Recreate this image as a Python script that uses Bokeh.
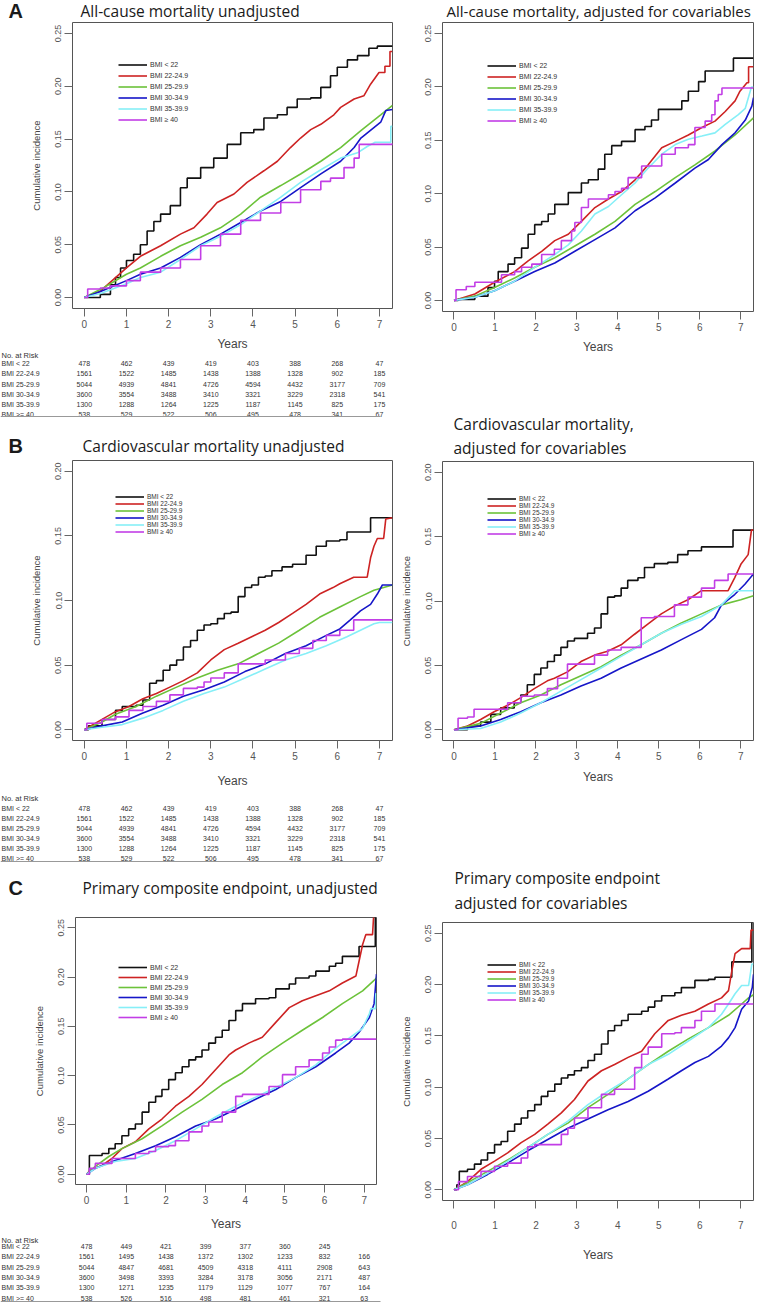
from bokeh.plotting import figure
from bokeh.layouts import column, row
from bokeh.models import (Range1d, Legend, LegendItem, FixedTicker,
                          NumeralTickFormatter)
from bokeh.embed import file_html
from bokeh.resources import INLINE
from bokeh.core.properties import value

# ---------------- data ----------------
GROUPS = ["BMI < 22", "BMI 22-24.9", "BMI 25-29.9", "BMI 30-34.9", "BMI 35-39.9", "BMI \u2265 40"]
RISK_LABELS = ["BMI < 22", "BMI 22-24.9", "BMI 25-29.9", "BMI 30-34.9", "BMI 35-39.9", "BMI >= 40"]
YEARS = [0, 1, 2, 3, 4, 5, 6, 7]
YTICKS_25 = [0.0, 0.05, 0.10, 0.15, 0.20, 0.25]
YTICKS_20 = [0.0, 0.05, 0.10, 0.15, 0.20]

# Numbers at risk (panels A and B)
RISK_AB_LT22 = [478, 462, 439, 419, 403, 388, 268, 47]
RISK_AB_B22 = [1561, 1522, 1485, 1438, 1388, 1328, 902, 185]
RISK_AB_B25 = [5044, 4939, 4841, 4726, 4594, 4432, 3177, 709]
RISK_AB_B30 = [3600, 3554, 3488, 3410, 3321, 3229, 2318, 541]
RISK_AB_B35 = [1300, 1288, 1264, 1225, 1187, 1145, 825, 175]
RISK_AB_GE40 = [538, 529, 522, 506, 495, 478, 341, 67]
# Numbers at risk (panel C)
RISK_C_LT22 = [478, 449, 421, 399, 377, 360, 245, None]
RISK_C_B22 = [1561, 1495, 1438, 1372, 1302, 1233, 832, 166]
RISK_C_B25 = [5044, 4847, 4681, 4509, 4318, 4111, 2908, 643]
RISK_C_B30 = [3600, 3498, 3393, 3284, 3178, 3056, 2171, 487]
RISK_C_B35 = [1300, 1271, 1235, 1179, 1129, 1077, 767, 164]
RISK_C_GE40 = [538, 526, 516, 498, 481, 461, 321, 63]

# All-cause mortality, unadjusted: (years, cumulative incidence)
AU_LT22 = [(0,0),(0.38,0.003),(0.62,0.012),(0.74,0.019),(0.86,0.028),(1.0,0.035),(1.17,0.041),(1.33,0.050),(1.49,0.063),(1.65,0.072),(1.81,0.079),(2.04,0.087),(2.28,0.104),(2.44,0.113),(2.76,0.123),(3.07,0.132),(3.39,0.145),(3.71,0.156),(4.02,0.159),(4.26,0.170),(4.58,0.173),(4.81,0.180),(5.05,0.188),(5.37,0.189),(5.61,0.199),(5.84,0.210),(6.0,0.218),(6.24,0.225),(6.48,0.229),(6.75,0.236),(6.95,0.238),(7.31,0.238)]
AU_B22 = [(0,0),(0.38,0.006),(1.0,0.028),(1.33,0.039),(1.81,0.049),(2.28,0.060),(2.6,0.066),(2.91,0.079),(3.15,0.090),(3.55,0.098),(3.86,0.109),(4.26,0.120),(4.58,0.129),(4.89,0.142),(5.13,0.151),(5.37,0.159),(5.61,0.164),(5.92,0.173),(6.08,0.180),(6.4,0.188),(6.63,0.191),(6.79,0.202),(6.99,0.213),(7.13,0.213),(7.13,0.219),(7.25,0.219),(7.25,0.233),(7.31,0.233)]
AU_B25 = [(0,0),(0.4,0.008),(1.0,0.022),(1.33,0.028),(1.81,0.039),(2.28,0.049),(2.76,0.057),(3.23,0.066),(3.71,0.079),(4.18,0.095),(4.66,0.106),(5.13,0.117),(5.61,0.129),(6.08,0.142),(6.56,0.158),(7.03,0.173),(7.31,0.182)]
AU_B30 = [(0,0),(0.4,0.006),(1.0,0.016),(1.33,0.022),(1.81,0.028),(2.28,0.038),(2.76,0.050),(3.23,0.060),(3.71,0.071),(4.18,0.082),(4.66,0.091),(5.13,0.104),(5.61,0.117),(6.08,0.129),(6.4,0.142),(6.56,0.151),(7.03,0.166),(7.15,0.177),(7.31,0.178)]
AU_B35 = [(0,0),(0.4,0.004),(1.0,0.013),(1.33,0.019),(1.81,0.024),(2.28,0.036),(2.76,0.049),(3.23,0.058),(3.71,0.069),(4.18,0.082),(4.66,0.095),(5.13,0.109),(5.61,0.121),(6.08,0.132),(6.48,0.137),(6.71,0.143),(6.9,0.147),(7.27,0.147),(7.27,0.162),(7.31,0.162)]
AU_GE40 = [(0,0),(0.08,0.008),(0.38,0.009),(0.62,0.011),(1.0,0.016),(1.33,0.024),(1.81,0.028),(2.28,0.036),(2.76,0.049),(3.23,0.060),(3.71,0.073),(4.18,0.080),(4.66,0.090),(5.13,0.102),(5.61,0.110),(5.84,0.113),(6.16,0.123),(6.4,0.132),(6.52,0.145),(7.31,0.146)]

# All-cause mortality, adjusted
AA_LT22 = [(0,0),(0.1,0.001),(0.51,0.004),(0.83,0.012),(0.99,0.018),(1.08,0.027),(1.32,0.034),(1.48,0.040),(1.65,0.049),(1.81,0.062),(1.97,0.071),(2.14,0.074),(2.3,0.081),(2.46,0.090),(2.79,0.101),(3.11,0.110),(3.28,0.113),(3.52,0.123),(3.68,0.137),(3.85,0.145),(4.09,0.149),(4.42,0.160),(4.66,0.163),(4.82,0.169),(4.99,0.179),(5.56,0.187),(5.72,0.196),(5.97,0.205),(6.13,0.215),(6.82,0.227),(7.31,0.227)]
AA_B22 = [(0,0),(0.51,0.006),(0.99,0.017),(1.48,0.027),(1.81,0.037),(2.14,0.046),(2.46,0.056),(2.79,0.062),(3.11,0.074),(3.44,0.087),(3.77,0.095),(4.09,0.102),(4.42,0.113),(4.74,0.127),(5.07,0.143),(5.4,0.149),(5.72,0.155),(6.05,0.162),(6.37,0.168),(6.62,0.177),(6.86,0.187),(6.98,0.196),(7.15,0.204),(7.19,0.204),(7.19,0.219),(7.31,0.219)]
AA_B25 = [(0,0),(0.51,0.004),(0.99,0.012),(1.48,0.021),(1.97,0.031),(2.46,0.040),(2.95,0.051),(3.44,0.062),(3.93,0.074),(4.42,0.090),(4.91,0.102),(5.4,0.115),(5.88,0.127),(6.37,0.140),(6.86,0.155),(7.31,0.171)]
AA_B30 = [(0,0),(0.51,0.003),(0.99,0.009),(1.48,0.018),(1.97,0.027),(2.46,0.035),(2.95,0.046),(3.44,0.057),(3.93,0.068),(4.42,0.084),(4.91,0.096),(5.4,0.110),(5.88,0.124),(6.21,0.132),(6.54,0.146),(6.86,0.157),(7.11,0.169),(7.27,0.182),(7.31,0.190)]
AA_B35 = [(0,0),(0.51,0.003),(0.99,0.009),(1.48,0.018),(1.97,0.031),(2.46,0.043),(2.79,0.052),(3.11,0.065),(3.44,0.081),(3.77,0.088),(4.09,0.099),(4.42,0.110),(4.74,0.124),(5.07,0.137),(5.4,0.146),(5.72,0.151),(6.05,0.154),(6.37,0.157),(6.62,0.165),(6.94,0.174),(7.11,0.180),(7.23,0.196),(7.26,0.200),(7.31,0.200)]
AA_GE40 = [(0,0),(0.05,0.010),(0.3,0.013),(0.51,0.017),(1.16,0.024),(1.48,0.027),(1.65,0.031),(1.9,0.034),(2.14,0.043),(2.45,0.048),(2.62,0.056),(2.87,0.065),(2.95,0.073),(3.11,0.087),(3.28,0.095),(3.77,0.099),(3.93,0.102),(4.09,0.105),(4.25,0.115),(4.58,0.126),(5.07,0.137),(5.4,0.143),(5.72,0.146),(5.88,0.162),(6.13,0.168),(6.29,0.174),(6.37,0.187),(6.45,0.193),(6.54,0.199),(7.31,0.199)]

# Cardiovascular mortality, unadjusted
CU_LT22 = [(0,0),(0.1,0.003),(0.42,0.008),(0.74,0.015),(0.9,0.018),(1.23,0.019),(1.39,0.023),(1.55,0.036),(1.71,0.038),(1.87,0.046),(2.03,0.050),(2.19,0.054),(2.35,0.064),(2.52,0.069),(2.68,0.077),(2.84,0.081),(3.0,0.082),(3.16,0.086),(3.32,0.090),(3.48,0.091),(3.65,0.103),(3.81,0.110),(3.97,0.112),(4.13,0.118),(4.29,0.119),(4.45,0.123),(4.69,0.126),(4.94,0.128),(5.26,0.135),(5.5,0.142),(5.74,0.146),(6.06,0.147),(6.23,0.153),(6.79,0.164),(7.31,0.164)]
CU_B22 = [(0,0),(0.1,0.002),(0.42,0.008),(0.74,0.014),(1.06,0.018),(1.39,0.024),(1.71,0.028),(2.03,0.033),(2.35,0.038),(2.68,0.044),(3.0,0.054),(3.32,0.062),(3.65,0.067),(3.97,0.072),(4.29,0.077),(4.61,0.083),(4.94,0.090),(5.26,0.097),(5.58,0.105),(5.9,0.110),(6.06,0.113),(6.39,0.118),(6.71,0.118),(6.79,0.133),(6.87,0.142),(6.95,0.148),(7.1,0.148),(7.15,0.163),(7.31,0.164)]
CU_B25 = [(0,0),(0.42,0.006),(0.74,0.012),(1.23,0.018),(1.71,0.026),(2.19,0.033),(2.68,0.040),(3.16,0.046),(3.65,0.051),(4.13,0.059),(4.61,0.067),(5.1,0.077),(5.58,0.087),(6.06,0.095),(6.55,0.103),(6.87,0.108),(7.31,0.112)]
CU_B30 = [(0,0),(0.42,0.003),(0.9,0.006),(1.39,0.013),(1.87,0.019),(2.35,0.026),(2.84,0.031),(3.32,0.037),(3.81,0.045),(4.29,0.051),(4.77,0.059),(5.26,0.065),(5.74,0.073),(6.06,0.078),(6.31,0.085),(6.55,0.092),(6.79,0.097),(6.95,0.105),(7.07,0.112),(7.31,0.112)]
CU_B35 = [(0,0),(0.42,0.002),(0.9,0.004),(1.39,0.009),(1.87,0.015),(2.35,0.022),(2.84,0.028),(3.32,0.033),(3.81,0.040),(4.29,0.047),(4.77,0.054),(5.26,0.059),(5.74,0.065),(6.23,0.072),(6.55,0.077),(6.87,0.082),(7.0,0.083),(7.31,0.083)]
CU_GE40 = [(0,0),(0.06,0.005),(0.42,0.008),(0.74,0.010),(1.06,0.015),(1.39,0.018),(1.71,0.022),(2.03,0.027),(2.35,0.032),(2.68,0.033),(2.84,0.037),(3.0,0.040),(3.32,0.044),(3.65,0.051),(4.29,0.054),(4.77,0.059),(5.1,0.063),(5.42,0.069),(5.74,0.073),(6.06,0.077),(6.39,0.085),(7.31,0.085)]

# Cardiovascular mortality, adjusted
CA_LT22 = [(0,0),(0.33,0.003),(0.65,0.006),(0.9,0.012),(1.14,0.017),(1.47,0.021),(1.63,0.027),(1.79,0.035),(1.96,0.043),(2.12,0.048),(2.28,0.053),(2.45,0.058),(2.61,0.064),(2.77,0.069),(2.94,0.071),(3.26,0.075),(3.43,0.079),(3.59,0.090),(3.75,0.103),(3.92,0.104),(4.08,0.110),(4.24,0.116),(4.49,0.118),(4.65,0.126),(4.89,0.129),(5.22,0.130),(5.46,0.136),(5.71,0.139),(6.04,0.142),(6.81,0.155),(7.31,0.155)]
CA_B22 = [(0,0),(0.33,0.003),(0.65,0.008),(0.98,0.014),(1.31,0.019),(1.63,0.025),(1.96,0.032),(2.28,0.038),(2.45,0.040),(2.77,0.045),(3.1,0.053),(3.43,0.058),(3.75,0.061),(4.08,0.066),(4.4,0.074),(4.73,0.082),(5.06,0.090),(5.38,0.096),(5.71,0.101),(6.04,0.108),(6.69,0.108),(6.85,0.118),(7.01,0.129),(7.18,0.136),(7.26,0.155),(7.31,0.155)]
CA_B25 = [(0,0),(0.65,0.005),(1.14,0.013),(1.63,0.021),(2.12,0.027),(2.61,0.035),(3.1,0.042),(3.59,0.049),(4.08,0.058),(4.57,0.066),(5.06,0.075),(5.55,0.083),(6.04,0.090),(6.53,0.097),(7.0,0.101),(7.31,0.104)]
CA_B30 = [(0,0),(0.65,0.003),(1.14,0.008),(1.63,0.014),(2.12,0.021),(2.61,0.027),(3.1,0.034),(3.59,0.040),(4.08,0.048),(4.57,0.055),(5.06,0.062),(5.55,0.070),(6.04,0.078),(6.36,0.087),(6.53,0.097),(6.85,0.105),(7.1,0.113),(7.31,0.121)]
CA_B35 = [(0,0),(0.65,0.001),(1.14,0.006),(1.63,0.013),(2.12,0.021),(2.61,0.030),(3.1,0.039),(3.59,0.048),(4.08,0.057),(4.57,0.066),(5.06,0.075),(5.55,0.082),(6.04,0.088),(6.53,0.097),(6.85,0.108),(7.31,0.108)]
CA_GE40 = [(0,0),(0.1,0.009),(0.33,0.010),(0.49,0.016),(1.31,0.021),(1.63,0.026),(1.96,0.027),(2.28,0.032),(2.53,0.040),(2.77,0.051),(3.43,0.058),(3.75,0.062),(4.08,0.064),(4.57,0.087),(4.89,0.088),(5.38,0.097),(5.71,0.103),(6.04,0.110),(6.36,0.116),(6.69,0.121),(7.31,0.121)]

# Primary composite endpoint, unadjusted
PU_LT22 = [(0,0),(0.07,0.019),(0.39,0.021),(0.56,0.026),(0.72,0.031),(0.89,0.039),(1.06,0.046),(1.23,0.051),(1.4,0.063),(1.57,0.073),(1.74,0.079),(1.9,0.086),(2.07,0.096),(2.24,0.103),(2.41,0.109),(2.58,0.116),(2.75,0.119),(2.91,0.126),(3.08,0.133),(3.25,0.139),(3.42,0.146),(3.59,0.156),(3.76,0.166),(3.93,0.173),(4.26,0.178),(4.6,0.179),(4.77,0.188),(5.11,0.193),(5.27,0.199),(5.61,0.201),(5.78,0.206),(6.12,0.211),(6.28,0.214),(6.45,0.221),(6.87,0.231),(7.28,0.27)]
PU_B22 = [(0,0),(0.09,0.004),(0.39,0.009),(0.64,0.016),(0.89,0.026),(1.23,0.033),(1.57,0.046),(1.9,0.056),(2.24,0.069),(2.58,0.079),(2.91,0.091),(3.25,0.106),(3.59,0.121),(3.76,0.126),(4.09,0.133),(4.43,0.139),(4.77,0.154),(5.11,0.169),(5.44,0.176),(5.78,0.181),(6.12,0.186),(6.45,0.194),(6.79,0.201),(6.87,0.216),(6.96,0.233),(7.04,0.243),(7.21,0.243),(7.25,0.27)]
PU_B25 = [(0,0),(0.22,0.008),(0.56,0.018),(0.89,0.026),(1.4,0.036),(1.9,0.049),(2.41,0.063),(2.91,0.076),(3.42,0.091),(3.93,0.103),(4.43,0.119),(4.94,0.133),(5.44,0.146),(5.95,0.159),(6.45,0.173),(6.96,0.186),(7.31,0.199)]
PU_B30 = [(0,0),(0.22,0.006),(0.72,0.014),(1.23,0.021),(1.74,0.029),(2.24,0.038),(2.75,0.049),(3.25,0.056),(3.76,0.066),(4.26,0.076),(4.77,0.086),(5.27,0.098),(5.78,0.109),(6.28,0.123),(6.62,0.133),(6.87,0.144),(7.13,0.159),(7.25,0.173),(7.31,0.203)]
PU_B35 = [(0,0),(0.22,0.006),(0.72,0.013),(1.23,0.016),(1.74,0.024),(2.24,0.034),(2.75,0.046),(3.25,0.058),(3.76,0.069),(4.26,0.078),(4.77,0.088),(5.27,0.098),(5.78,0.111),(6.28,0.128),(6.62,0.138),(6.96,0.148),(7.13,0.163),(7.17,0.168),(7.29,0.168),(7.29,0.183),(7.31,0.183)]
PU_GE40 = [(0,0),(0.07,0.006),(0.22,0.011),(0.64,0.016),(1.23,0.021),(1.57,0.023),(1.74,0.028),(2.07,0.029),(2.24,0.034),(2.58,0.043),(2.91,0.049),(3.08,0.053),(3.42,0.063),(3.76,0.079),(3.93,0.081),(4.6,0.089),(4.94,0.101),(5.27,0.109),(5.61,0.116),(5.95,0.123),(6.12,0.129),(6.28,0.136),(6.45,0.137),(7.31,0.137)]

# Primary composite endpoint, adjusted
PA_LT22 = [(0,0),(0.07,0.005),(0.13,0.018),(0.33,0.020),(0.5,0.025),(0.66,0.029),(0.82,0.036),(0.99,0.044),(1.15,0.047),(1.31,0.057),(1.48,0.064),(1.64,0.070),(1.8,0.077),(1.97,0.083),(2.13,0.091),(2.29,0.096),(2.46,0.103),(2.62,0.109),(2.78,0.112),(2.94,0.116),(3.11,0.119),(3.27,0.126),(3.43,0.132),(3.6,0.142),(3.76,0.155),(3.92,0.160),(4.09,0.165),(4.25,0.171),(4.58,0.174),(4.74,0.178),(4.9,0.184),(5.07,0.189),(5.39,0.192),(5.55,0.197),(5.88,0.204),(6.21,0.205),(6.37,0.207),(6.78,0.222),(7.27,0.27)]
PA_B22 = [(0,0),(0.33,0.008),(0.66,0.020),(0.99,0.028),(1.31,0.036),(1.64,0.046),(1.97,0.054),(2.29,0.064),(2.62,0.075),(2.94,0.088),(3.27,0.106),(3.6,0.116),(3.92,0.122),(4.25,0.129),(4.58,0.135),(4.9,0.152),(5.23,0.165),(5.55,0.170),(5.88,0.174),(6.21,0.181),(6.53,0.187),(6.7,0.194),(6.78,0.213),(6.86,0.230),(7.02,0.235),(7.23,0.235),(7.25,0.253),(7.31,0.253)]
PA_B25 = [(0,0),(0.33,0.007),(0.82,0.018),(1.31,0.029),(1.8,0.041),(2.29,0.054),(2.78,0.065),(3.27,0.080),(3.76,0.093),(4.25,0.108),(4.74,0.122),(5.23,0.135),(5.72,0.147),(6.21,0.158),(6.7,0.170),(7.02,0.181),(7.19,0.187),(7.31,0.190)]
PA_B30 = [(0,0),(0.33,0.005),(0.82,0.015),(1.31,0.026),(1.8,0.038),(2.29,0.049),(2.78,0.060),(3.27,0.069),(3.76,0.078),(4.25,0.086),(4.74,0.096),(5.23,0.108),(5.55,0.116),(5.88,0.124),(6.21,0.130),(6.53,0.140),(6.7,0.148),(6.86,0.158),(7.02,0.176),(7.19,0.184),(7.28,0.197),(7.31,0.210)]
PA_B35 = [(0,0),(0.33,0.005),(0.82,0.016),(1.31,0.028),(1.8,0.041),(2.29,0.054),(2.78,0.067),(3.27,0.083),(3.76,0.096),(4.25,0.108),(4.74,0.122),(5.23,0.132),(5.72,0.145),(6.21,0.158),(6.53,0.171),(6.7,0.181),(6.86,0.191),(7.02,0.199),(7.19,0.199),(7.27,0.220),(7.31,0.220)]
PA_GE40 = [(0,0),(0.11,0.008),(0.33,0.013),(0.66,0.018),(0.99,0.023),(1.31,0.026),(1.64,0.031),(1.8,0.042),(1.97,0.044),(2.62,0.054),(2.78,0.060),(2.94,0.070),(3.27,0.080),(3.6,0.093),(3.92,0.098),(4.41,0.119),(4.58,0.132),(4.74,0.139),(5.07,0.152),(5.39,0.153),(5.55,0.158),(5.88,0.165),(6.04,0.174),(6.37,0.181),(7.31,0.181)]

# ---------------- styling ----------------
COLORS = ["#111111", "#cd2323", "#6cc23a", "#1616c8", "#86eff7", "#c23ee6"]
STEP_GROUPS = (0, 5)
X_LO, X_HI = -0.28, 7.31
FONT = "Liberation Sans"
TITLE_FONT = "Open Sans"
LEFT_W, RIGHT_W = 394, 368


def no_align(p):
    # keep each figure's own borders (no frame alignment across the column)
    if "frame_align" in p.properties():
        p.frame_align = False
    return p


def blank_fig(w, h, xr, yr):
    p = figure(width=w, height=h, x_range=xr, y_range=yr, x_axis_type=None, y_axis_type=None,
               min_border=0, toolbar_location=None, tools="", output_backend="svg")
    p.outline_line_color = None
    p.background_fill_color = "white"
    p.border_fill_color = "white"
    return no_align(p)


def build_header(w, h, items):
    p = blank_fig(w, h, Range1d(0, w), Range1d(h, 0))
    for x, y, txt, font, size, style in items:
        p.text(x=[x], y=[y], text=[txt], text_font=value(font), text_font_size=value(size),
               text_font_style=value(style), text_color="#1a1a1a", text_align="left",
               text_baseline="middle")
    return p


def style_axes(p, yticks, ylabel, xlabel, x_standoff, xlab_standoff):
    p.xgrid.visible = False
    p.ygrid.visible = False
    p.outline_line_color = "#555555"
    p.outline_line_width = 1
    for ax in (p.xaxis[0], p.yaxis[0]):
        ax.axis_line_color = None
        ax.major_tick_in = 0
        ax.major_tick_out = 8
        ax.minor_tick_line_color = None
        ax.major_tick_line_color = "#666666"
        ax.major_label_text_font = FONT
        ax.major_label_text_color = "#555555"
        ax.axis_label_text_font = FONT
        ax.axis_label_text_font_style = "normal"
        ax.axis_label_text_color = "#444444"
    xa = p.xaxis[0]
    xa.ticker = FixedTicker(ticks=YEARS)
    xa.major_label_text_font_size = "10px"
    xa.major_label_standoff = x_standoff
    if xlabel:
        xa.axis_label = xlabel
        xa.axis_label_text_font_size = "12px"
        xa.axis_label_standoff = xlab_standoff
    ya = p.yaxis[0]
    ya.ticker = FixedTicker(ticks=yticks)
    ya.formatter = NumeralTickFormatter(format="0.00")
    ya.major_label_orientation = "vertical"
    ya.major_label_text_font_size = "9px"
    ya.major_label_standoff = 3
    if ylabel:
        ya.axis_label = ylabel
        ya.axis_label_text_font_size = "9.5px"
        ya.axis_label_standoff = 11


def build_panel(curves, yticks, yr, fig_w, fig_h, mb_left, mb_right, frame_h,
                ylabel, xlabel, x_standoff, xlab_standoff, legend_cfg):
    mb_bottom = fig_h - frame_h
    p = figure(width=fig_w, height=fig_h, x_range=Range1d(X_LO, X_HI), y_range=Range1d(*yr),
               min_border_left=mb_left, min_border_right=mb_right,
               min_border_top=0, min_border_bottom=mb_bottom,
               toolbar_location=None, tools="", output_backend="svg")
    no_align(p)
    p.background_fill_color = "white"
    p.border_fill_color = "white"
    style_axes(p, yticks, ylabel, xlabel, x_standoff, xlab_standoff)

    rends = []
    for i, pts in enumerate(curves):
        t = [a for a, _ in pts]
        v = [b for _, b in pts]
        if i in STEP_GROUPS:
            r = p.step(t, v, mode="after", line_color=COLORS[i], line_width=1.6)
        else:
            r = p.line(t, v, line_color=COLORS[i], line_width=1.6)
        rends.append(r)

    lx, lyb, row_h, fsize = legend_cfg
    items = [LegendItem(label=g, renderers=[r]) for g, r in zip(GROUPS, rends)]
    lg = Legend(items=items, location=(lx, lyb), glyph_width=29, glyph_height=row_h,
                label_height=row_h, label_standoff=3, spacing=0, padding=0, margin=0,
                border_line_color=None, background_fill_alpha=0,
                label_text_font=FONT, label_text_font_size=fsize,
                label_text_color="#333333")
    p.add_layout(lg)
    return p


def build_table(rows, frame_left, frame_right, h, y_years, y_header, y_row0, dy, y_line):
    ppy = (frame_right - frame_left) / (X_HI - X_LO)
    xs = X_LO - frame_left / ppy
    xe = X_HI + (LEFT_W - frame_right) / ppy
    p = blank_fig(LEFT_W, h, Range1d(xs, xe), Range1d(h, 0))
    lab_x = xs + 1.0 / ppy
    p.text(x=[(X_LO + X_HI) / 2], y=[y_years], text=["Years"], text_font=value(FONT),
           text_font_size=value("12px"), text_color="#444444", text_align="center",
           text_baseline="middle")
    p.text(x=[lab_x], y=[y_header], text=["No. at Risk"], text_font=value(FONT),
           text_font_size=value("7.5px"), text_color="#333333", text_align="left",
           text_baseline="middle")
    lx, lyy, lt, nx, ny, nt = [], [], [], [], [], []
    for i, (lab, vals) in enumerate(rows):
        yy = y_row0 + i * dy
        lx.append(lab_x); lyy.append(yy); lt.append(lab)
        for yr_, n in zip(YEARS, vals):
            if n is None:
                continue
            nx.append(yr_); ny.append(yy); nt.append(str(n))
    p.text(x=lx, y=lyy, text=lt, text_font=value(FONT), text_font_size=value("7px"),
           text_color="#333333", text_align="left", text_baseline="middle")
    p.text(x=nx, y=ny, text=nt, text_font=value(FONT), text_font_size=value("7px"),
           text_color="#333333", text_align="center", text_baseline="middle")
    # rule under the table, spanning the table's width
    p.segment(x0=[xs], x1=[xs + 380.0 / ppy], y0=[y_line], y1=[y_line],
              line_color="#999999", line_width=1)
    return p


RISK_AB = list(zip(RISK_LABELS, [RISK_AB_LT22, RISK_AB_B22, RISK_AB_B25, RISK_AB_B30, RISK_AB_B35, RISK_AB_GE40]))
RISK_C = list(zip(RISK_LABELS, [RISK_C_LT22, RISK_C_B22, RISK_C_B25, RISK_C_B30, RISK_C_B35, RISK_C_GE40]))

YR25 = (-0.0104, 0.2604)
YR20 = (-0.0083, 0.2083)
TS = "15.5px"

# ----- left column -----
HAL = build_header(LEFT_W, 22, [(8, 10, "A", FONT, "20px", "bold"),
                                (80, 10, "All-cause mortality unadjusted", TITLE_FONT, TS, "normal")])
AL = build_panel([AU_LT22, AU_B22, AU_B25, AU_B30, AU_B35, AU_GE40], YTICKS_25, YR25,
                 LEFT_W, 312, 72, 2, 286, "Cumulative incidence", None, 3, 0,
                 (46, 183, 11, "7px"))
TA = build_table(RISK_AB, 72, 392, 86, 9, 21, 29.3, 10.1, 82)

HBL = build_header(LEFT_W, 40, [(8, 25, "B", FONT, "20px", "bold"),
                                (82, 25, "Cardiovascular mortality unadjusted", TITLE_FONT, TS, "normal")])
BL = build_panel([CU_LT22, CU_B22, CU_B25, CU_B30, CU_B35, CU_GE40], YTICKS_20, YR20,
                 LEFT_W, 306, 72, 2, 280, "Cumulative incidence", None, 3, 0,
                 (43, 205, 7, "6.5px"))
TB = build_table(RISK_AB, 72, 392, 100, 14, 32.3, 41.7, 9.96, 95)

HCL = build_header(LEFT_W, 51, [(8, 21, "C", FONT, "20px", "bold"),
                                (82, 21, "Primary composite endpoint, unadjusted", TITLE_FONT, TS, "normal")])
CL = build_panel([PU_LT22, PU_B22, PU_B25, PU_B30, PU_B35, PU_GE40], YTICKS_25, YR25,
                 LEFT_W, 293, 75, 18, 267, "Cumulative incidence", None, 3, 0,
                 (43, 162, 10, "7px"))
TC = build_table(RISK_C, 75, 376, 92, 13, 29.5, 35.7, 10.4, 91)

# ----- right column -----
HAR = build_header(RIGHT_W, 22, [(52, 10, "All-cause mortality, adjusted for covariables", TITLE_FONT, "15px", "normal")])
AR = build_panel([AA_LT22, AA_B22, AA_B25, AA_B30, AA_B35, AA_GE40], YTICKS_25, YR25,
                 RIGHT_W, 390, 48, 9, 289, None, "Years", 3, 6,
                 (45, 185, 11, "7px"))
HBR = build_header(RIGHT_W, 49, [(59, 11, "Cardiovascular mortality,", TITLE_FONT, TS, "normal"),
                                 (59, 35, "adjusted for covariables", TITLE_FONT, TS, "normal")])
BR = build_panel([CA_LT22, CA_B22, CA_B25, CA_B30, CA_B35, CA_GE40], YTICKS_20, YR20,
                 RIGHT_W, 405, 48, 9, 279, "Cumulative incidence", "Years", 3, 7,
                 (45, 203, 7, "6.5px"))
HCR = build_header(RIGHT_W, 56, [(60, 11, "Primary composite endpoint", TITLE_FONT, TS, "normal"),
                                 (60, 36, "adjusted for covariables", TITLE_FONT, TS, "normal")])
CR = build_panel([PA_LT22, PA_B22, PA_B25, PA_B30, PA_B35, PA_GE40], YTICKS_25, YR25,
                 RIGHT_W, 380, 48, 9, 278, "Cumulative incidence", "Years", 12, 16,
                 (45, 197, 7, "6.5px"))

left = column(HAL, AL, TA, HBL, BL, TB, HCL, CL, TC)
right = column(HAR, AR, HBR, BR, HCR, CR)
root = row(left, right)

open("out.html", "w").write(file_html(root, INLINE, title="BMI cumulative incidence"))
